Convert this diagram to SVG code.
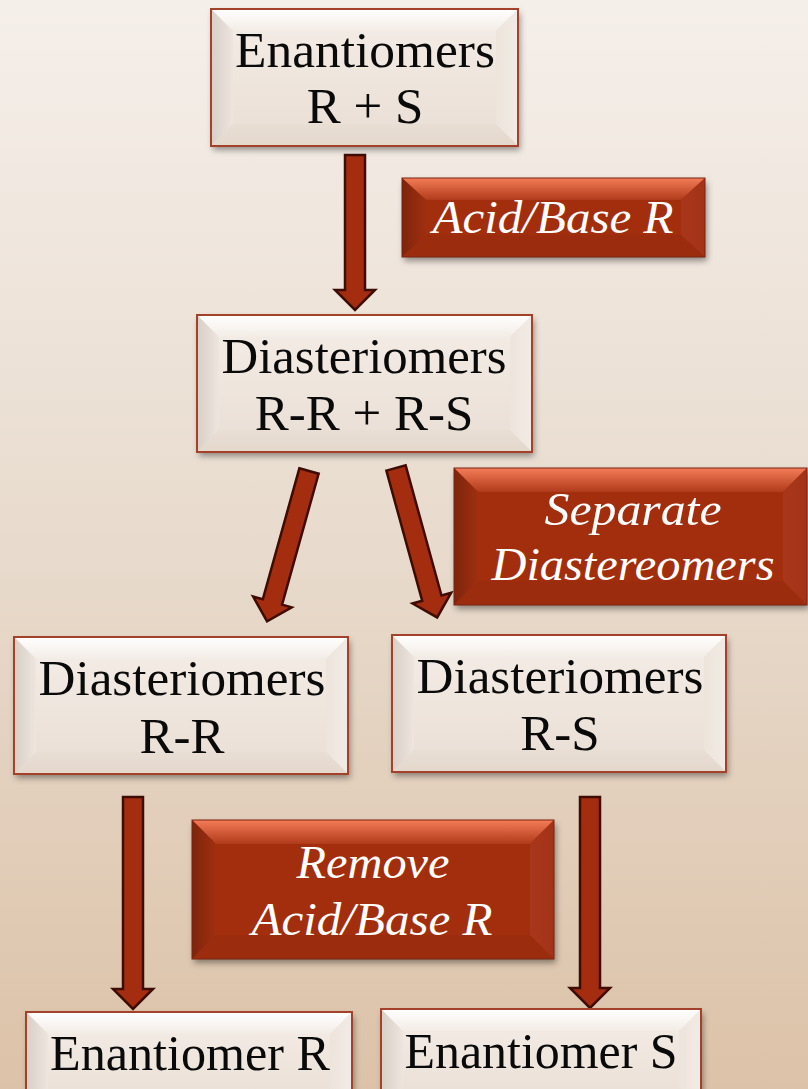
<svg xmlns="http://www.w3.org/2000/svg" width="808" height="1089" viewBox="0 0 808 1089">
<defs>
<linearGradient id="bg" x1="0" y1="0" x2="0" y2="1">
<stop offset="0" stop-color="#f5efea"/>
<stop offset="0.5" stop-color="#e8dbcd"/>
<stop offset="1" stop-color="#dcc2a8"/>
</linearGradient>
<linearGradient id="lc" x1="0" y1="0" x2="0" y2="1">
<stop offset="0" stop-color="#f4ede7"/>
<stop offset="1" stop-color="#e9ded4"/>
</linearGradient>
<linearGradient id="lt" x1="0" y1="0" x2="0" y2="1">
<stop offset="0" stop-color="#ffffff"/>
<stop offset="1" stop-color="#f3ece6"/>
</linearGradient>
<linearGradient id="ll" x1="0" y1="0" x2="1" y2="0">
<stop offset="0" stop-color="#d8cfc7"/>
<stop offset="1" stop-color="#ede5de"/>
</linearGradient>
<linearGradient id="lr" x1="0" y1="0" x2="1" y2="0">
<stop offset="0" stop-color="#ede4dc"/>
<stop offset="1" stop-color="#f2ebe5"/>
</linearGradient>
<linearGradient id="lb" x1="0" y1="0" x2="0" y2="1">
<stop offset="0" stop-color="#e9ded4"/>
<stop offset="1" stop-color="#e4d8cd"/>
</linearGradient>
<linearGradient id="rt" x1="0" y1="0" x2="0" y2="1">
<stop offset="0" stop-color="#f47c58"/>
<stop offset="1" stop-color="#b03b1a"/>
</linearGradient>
<linearGradient id="rl" x1="0" y1="0" x2="1" y2="0">
<stop offset="0" stop-color="#7e240c"/>
<stop offset="1" stop-color="#9f2f10"/>
</linearGradient>
<linearGradient id="rr" x1="0" y1="0" x2="1" y2="0">
<stop offset="0" stop-color="#a8361a"/>
<stop offset="1" stop-color="#a33318"/>
</linearGradient>
<filter id="sh" x="-10%" y="-10%" width="125%" height="130%">
<feDropShadow dx="2" dy="4" stdDeviation="3" flood-color="#000" flood-opacity="0.4"/>
</filter>
<style>
.lbase{fill:url(#lc);filter:url(#sh)}
.lt{fill:url(#lt)}
.ll{fill:url(#ll)}
.lr{fill:url(#lr)}
.lb{fill:url(#lb)}
.lbo{fill:none;stroke:#a3412a;stroke-width:2}
.rbase{fill:#a32f10;filter:url(#sh)}
.rt{fill:url(#rt)}
.rl{fill:url(#rl)}
.rr{fill:url(#rr)}
.rb{fill:#9b2c0e}
.rbo{fill:none;stroke:#7a2410;stroke-width:1}
.t{font-family:"Liberation Serif","DejaVu Serif",serif;font-size:51px;fill:#0a0a0a;text-anchor:middle}
.w{font-family:"Liberation Serif","DejaVu Serif",serif;font-size:47px;font-style:italic;fill:#ffffff;text-anchor:middle}
.arr{fill:#a52d0f;stroke:#3f0c03;stroke-width:2.5;stroke-linejoin:miter}
</style>
</defs>
<rect x="0" y="0" width="808" height="1089" fill="url(#bg)"/>

<g id="connectors">
<path class="arr" transform="translate(355,155)" d="M-10,0 H10 V135 H20 L0,155 L-20,135 H-10 Z"/>
<path class="arr" transform="translate(309,471) rotate(15.6)" d="M-10,0 H10 V136 H20 L0,156 L-20,136 H-10 Z"/>
<path class="arr" transform="translate(396,468) rotate(-15.4)" d="M-10,0 H10 V135 H20 L0,155 L-20,135 H-10 Z"/>
<path class="arr" transform="translate(133,797)" d="M-10,0 H10 V192 H20 L0,212 L-20,192 H-10 Z"/>
<path class="arr" transform="translate(590,797)" d="M-10,0 H10 V191 H20 L0,211 L-20,191 H-10 Z"/>
</g>

<g id="node-enantiomers">
<rect class="lbase" x="211" y="9" width="307" height="137"/>
<polygon class="lt" points="211,9 518,9 496,31 233,31"/>
<polygon class="ll" points="211,9 233,31 233,124 211,146"/>
<polygon class="lr" points="518,9 518,146 496,124 496,31"/>
<polygon class="lb" points="211,146 233,124 496,124 518,146"/>
<rect class="lbo" x="211" y="9" width="307" height="137"/>
<text class="t" x="365" y="67" textLength="260" lengthAdjust="spacingAndGlyphs">Enantiomers</text>
<text class="t" x="365" y="123">R + S</text>
</g>

<g id="node-acidbase">
<rect class="rbase" x="402" y="178" width="303" height="79"/>
<polygon class="rt" points="402,178 705,178 681,200 426,200"/>
<polygon class="rl" points="402,178 426,200 426,235 402,257"/>
<polygon class="rr" points="705,178 705,257 681,235 681,200"/>
<polygon class="rb" points="402,257 426,235 681,235 705,257"/>
<rect class="rbo" x="402" y="178" width="303" height="79"/>
<text class="w" x="553" y="233" textLength="241" lengthAdjust="spacingAndGlyphs">Acid/Base R</text>
</g>

<g id="node-diast-mix">
<rect class="lbase" x="197" y="315" width="335" height="137"/>
<polygon class="lt" points="197,315 532,315 510,337 219,337"/>
<polygon class="ll" points="197,315 219,337 219,430 197,452"/>
<polygon class="lr" points="532,315 532,452 510,430 510,337"/>
<polygon class="lb" points="197,452 219,430 510,430 532,452"/>
<rect class="lbo" x="197" y="315" width="335" height="137"/>
<text class="t" x="364" y="373" textLength="285" lengthAdjust="spacingAndGlyphs">Diasteriomers</text>
<text class="t" x="364" y="430">R-R + R-S</text>
</g>

<g id="node-separate">
<rect class="rbase" x="454" y="468" width="353" height="137"/>
<polygon class="rt" points="454,468 807,468 783,492 478,492"/>
<polygon class="rl" points="454,468 478,492 478,581 454,605"/>
<polygon class="rr" points="807,468 807,605 783,581 783,492"/>
<polygon class="rb" points="454,605 478,581 783,581 807,605"/>
<rect class="rbo" x="454" y="468" width="353" height="137"/>
<text class="w" x="633" y="525" textLength="177" lengthAdjust="spacingAndGlyphs">Separate</text>
<text class="w" x="633" y="580" textLength="283" lengthAdjust="spacingAndGlyphs">Diastereomers</text>
</g>

<g id="node-diast-rr">
<rect class="lbase" x="14" y="637" width="334" height="137"/>
<polygon class="lt" points="14,637 348,637 326,659 36,659"/>
<polygon class="ll" points="14,637 36,659 36,752 14,774"/>
<polygon class="lr" points="348,637 348,774 326,752 326,659"/>
<polygon class="lb" points="14,774 36,752 326,752 348,774"/>
<rect class="lbo" x="14" y="637" width="334" height="137"/>
<text class="t" x="182" y="695" textLength="287" lengthAdjust="spacingAndGlyphs">Diasteriomers</text>
<text class="t" x="182" y="753">R-R</text>
</g>

<g id="node-diast-rs">
<rect class="lbase" x="392" y="635" width="334" height="137"/>
<polygon class="lt" points="392,635 726,635 704,657 414,657"/>
<polygon class="ll" points="392,635 414,657 414,750 392,772"/>
<polygon class="lr" points="726,635 726,772 704,750 704,657"/>
<polygon class="lb" points="392,772 414,750 704,750 726,772"/>
<rect class="lbo" x="392" y="635" width="334" height="137"/>
<text class="t" x="560" y="693" textLength="287" lengthAdjust="spacingAndGlyphs">Diasteriomers</text>
<text class="t" x="560" y="750">R-S</text>
</g>

<g id="node-remove">
<rect class="rbase" x="192" y="820" width="362" height="139"/>
<polygon class="rt" points="192,820 554,820 530,844 216,844"/>
<polygon class="rl" points="192,820 216,844 216,935 192,959"/>
<polygon class="rr" points="554,820 554,959 530,935 530,844"/>
<polygon class="rb" points="192,959 216,935 530,935 554,959"/>
<rect class="rbo" x="192" y="820" width="362" height="139"/>
<text class="w" x="373" y="878" textLength="153" lengthAdjust="spacingAndGlyphs">Remove</text>
<text class="w" x="372" y="935" textLength="241" lengthAdjust="spacingAndGlyphs">Acid/Base R</text>
</g>

<g id="node-enantiomer-r">
<rect class="lbase" x="26" y="1012" width="326" height="100"/>
<polygon class="lt" points="26,1012 352,1012 330,1034 48,1034"/>
<polygon class="ll" points="26,1012 48,1034 48,1090 26,1112"/>
<polygon class="lr" points="352,1012 352,1112 330,1090 330,1034"/>
<rect class="lbo" x="26" y="1012" width="326" height="100"/>
<text class="t" x="190" y="1070" textLength="280" lengthAdjust="spacingAndGlyphs">Enantiomer R</text>
</g>

<g id="node-enantiomer-s">
<rect class="lbase" x="381" y="1009" width="320" height="100"/>
<polygon class="lt" points="381,1009 701,1009 679,1031 403,1031"/>
<polygon class="ll" points="381,1009 403,1031 403,1087 381,1109"/>
<polygon class="lr" points="701,1009 701,1109 679,1087 679,1031"/>
<rect class="lbo" x="381" y="1009" width="320" height="100"/>
<text class="t" x="541" y="1068" textLength="273" lengthAdjust="spacingAndGlyphs">Enantiomer S</text>
</g>
</svg>
